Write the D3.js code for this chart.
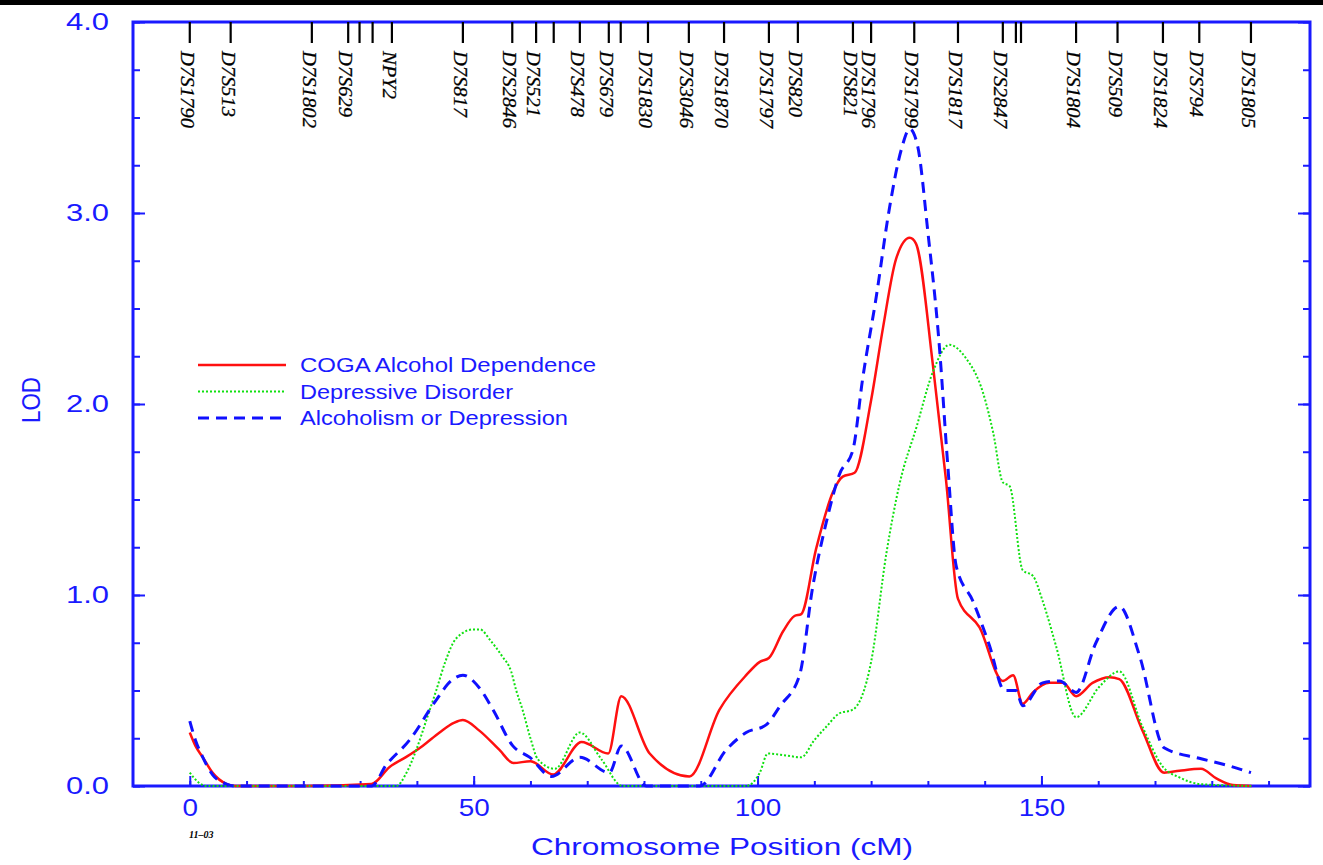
<!DOCTYPE html>
<html>
<head>
<meta charset="utf-8">
<script src="https://cdn.jsdelivr.net/npm/d3@7"></script>
<style>
  body { margin: 0; background: #fff; }
  svg { display: block; }
  .tick-lab { font-family: "Liberation Sans", Arial, sans-serif; fill: #1a1aff; }
  .marker-lab { font-family: "Liberation Serif", "Times New Roman", serif; font-style: italic; fill: #000; stroke: #000; stroke-width: 0.25; }
</style>
</head>
<body>
<div id="chart"></div>
<script>
// markers along the top (cM); empty name = tick without label
const markerNames = ["D7S1790","D7S513","D7S1802","D7S629","","","NPY2","D7S817","D7S2846","D7S521","",
  "D7S478","D7S679","","D7S1830","D7S3046","D7S1870","D7S1797","D7S820","D7S821","D7S1796","D7S1799",
  "D7S1817","D7S2847","","","D7S1804","D7S509","D7S1824","D7S794","D7S1805"];
const markerCM = [0,7.2,21.5,27.9,29.9,32.2,35.6,48.1,56.8,61.0,64.1,
  68.7,73.8,75.9,80.7,87.9,94.1,102.0,107.1,116.8,120.0,127.6,
  135.3,143.2,145.5,146.4,156.1,163.4,171.4,177.8,186.9];

// COGA Alcohol Dependence
const cogaCM  = [0,1,2.3,4,6.5,8,20,32,35.2,38,41,44,46.5,48.1,51,54.5,57,60,64,69,73.7,76,81,88,93.3,98,100.4,102,
  104.5,106.5,107.7,110.3,113.3,115,117.1,120,122.1,124.4,126.8,127.9,130.9,133.2,135.3,139.1,143.2,145,146.7,148.5,
  151.4,153.8,156.1,159,162,163.7,167.8,171.6,174.3,178.1,180.8,183.7,187];
const cogaLOD = [0.28,0.21,0.15,0.07,0.01,0,0,0.01,0.10,0.15,0.21,0.28,0.33,0.345,0.29,0.19,0.12,0.13,0.06,0.23,0.17,0.47,0.17,0.05,0.40,0.58,0.65,0.67,
  0.81,0.89,0.90,1.24,1.54,1.62,1.64,2.02,2.40,2.76,2.87,2.84,2.20,1.60,0.98,0.83,0.55,0.58,0.43,0.49,
  0.54,0.54,0.47,0.54,0.57,0.56,0.29,0.07,0.08,0.09,0.04,0.005,0];

// Depressive Disorder
const depCM  = [0,1.5,3,20,36.4,38,39.9,41.5,43.4,45,46.4,48,49.9,51.1,53,55,56.6,57.5,58.6,60,61.3,64.3,68.7,72.5,76.2,
  98,100.4,101.8,105,107.7,110,112.1,114.4,116.8,120,122.7,125,128,130.9,133.8,136.7,139.7,141.5,143.2,144.4,146.7,148.5,
  150.2,152.6,156.1,160.2,163.7,167.8,171.4,174.3,178,187];
const depLOD = [0.07,0.02,0,0,0,0.06,0.19,0.33,0.50,0.65,0.75,0.80,0.82,0.82,0.76,0.68,0.60,0.50,0.40,0.25,0.14,0.09,0.28,0.14,0,
  0,0.07,0.17,0.16,0.15,0.24,0.31,0.38,0.40,0.65,1.22,1.58,1.88,2.17,2.31,2.24,2.06,1.85,1.59,1.57,1.13,1.10,
  0.97,0.73,0.36,0.52,0.60,0.31,0.10,0.045,0.01,0];

// Alcoholism or Depression
const eitherCM  = [0,1,2.3,4,6.5,8,20,32,34.6,38.7,43.4,46,48.1,51.1,53.4,56.9,59.9,63.7,68.7,73.9,76,80.4,89.8,94.5,98,101.5,
  104,107.4,109.7,112.1,114.4,116.8,118.5,120.9,123.2,125.3,126.8,128.2,130,132,133.5,135,137.9,140.8,143.5,145.5,146.7,
  150.2,153.2,156.1,159.6,163.7,167.3,171.6,177.8,182.5,186.9];
const eitherLOD = [0.34,0.24,0.15,0.06,0.01,0,0,0,0.11,0.24,0.45,0.55,0.58,0.51,0.40,0.21,0.15,0.05,0.15,0.07,0.21,0,0,0.19,0.28,0.32,
  0.42,0.58,1.04,1.38,1.63,1.76,2.13,2.56,3.02,3.33,3.44,3.35,2.90,2.31,1.68,1.15,0.97,0.74,0.50,0.50,0.42,
  0.54,0.55,0.49,0.75,0.94,0.68,0.20,0.145,0.11,0.07];

const yMajor = [0,1,2,3,4];
const xMajor = [0,50,100,150];
const seriesNames = ["COGA Alcohol Dependence","Depressive Disorder","Alcoholism or Depression"];

const W = 1323, H = 865;
const blue = "#1a1aff";

const svg = d3.select("#chart").append("svg").attr("width", W).attr("height", H);
svg.append("rect").attr("width", W).attr("height", H).attr("fill", "#fff");
svg.append("rect").attr("width", W).attr("height", 5).attr("fill", "#000");

const x = d3.scaleLinear().domain([-10, 197.3]).range([133, 1310]);
const y = d3.scaleLinear().domain([0, 4]).range([786, 22]);

// frame
svg.append("rect")
  .attr("x", x.range()[0]).attr("y", y.range()[1])
  .attr("width", x.range()[1] - x.range()[0]).attr("height", y.range()[0] - y.range()[1])
  .attr("fill", "none").attr("stroke", blue).attr("stroke-width", 3);

function styleAxis(g) {
  g.select(".domain").remove();
  g.selectAll(".tick line").attr("stroke", blue).attr("stroke-width", 2);
}

// y axis, left: major with labels, minor every 0.25
svg.append("g").attr("transform", `translate(${x.range()[0]},0)`)
  .call(d3.axisLeft(y).tickValues(d3.range(0, 4.01, 0.25)).tickSize(-7).tickFormat(""))
  .call(styleAxis);
const yl = svg.append("g").attr("transform", `translate(${x.range()[0]},0)`)
  .call(d3.axisLeft(y).tickValues(yMajor).tickSize(-12).tickPadding(24).tickFormat(d3.format(".1f")))
  .call(styleAxis);
yl.selectAll("text").attr("class", "tick-lab").attr("font-size", 23)
  .attr("textLength", 43).attr("lengthAdjust", "spacingAndGlyphs");

// y axis, right
svg.append("g").attr("transform", `translate(${x.range()[1]},0)`)
  .call(d3.axisRight(y).tickValues(d3.range(0, 4.01, 0.25)).tickSize(-7).tickFormat(""))
  .call(styleAxis);
svg.append("g").attr("transform", `translate(${x.range()[1]},0)`)
  .call(d3.axisRight(y).tickValues(yMajor).tickSize(-12).tickFormat(""))
  .call(styleAxis);

// x axis
svg.append("g").attr("transform", `translate(0,${y.range()[0]})`)
  .call(d3.axisBottom(x).tickValues(d3.range(0, 191, 10)).tickSize(-5).tickFormat(""))
  .call(styleAxis);
const xl = svg.append("g").attr("transform", `translate(0,${y.range()[0]})`)
  .call(d3.axisBottom(x).tickValues(xMajor).tickSize(-10).tickPadding(14))
  .call(styleAxis);
xl.selectAll("text").attr("class", "tick-lab").attr("font-size", 23)
  .attr("textLength", d => String(d).length * 15.5).attr("lengthAdjust", "spacingAndGlyphs");

// axis titles
svg.append("text").attr("class", "tick-lab")
  .attr("transform", "translate(40,400) rotate(-90)")
  .attr("text-anchor", "middle").attr("font-size", 25)
  .attr("textLength", 46).attr("lengthAdjust", "spacingAndGlyphs")
  .text("LOD");
svg.append("text").attr("class", "tick-lab")
  .attr("x", 722).attr("y", 855).attr("text-anchor", "middle").attr("font-size", 24)
  .attr("textLength", 382).attr("lengthAdjust", "spacingAndGlyphs")
  .text("Chromosome Position (cM)");
svg.append("text")
  .attr("x", 189).attr("y", 838)
  .attr("font-family", "Liberation Serif, serif").attr("font-style", "italic").attr("font-weight", "bold")
  .attr("font-size", 10).attr("fill", "#000")
  .text("11–03");

// markers
const markers = markerNames.map((n, i) => ({ name: n, cm: markerCM[i] }));
const mg = svg.append("g");
mg.selectAll("line").data(markers).join("line")
  .attr("x1", d => x(d.cm)).attr("x2", d => x(d.cm))
  .attr("y1", y.range()[1]).attr("y2", 43)
  .attr("stroke", "#000").attr("stroke-width", 2.2);
mg.selectAll("text").data(markers.filter(d => d.name)).join("text")
  .attr("class", "marker-lab")
  .attr("transform", d => `translate(${x(d.cm) - 9},51) rotate(90)`)
  .attr("font-size", 18)
  .attr("textLength", d => d.name === "NPY2" ? 48 : d.name.length * 11)
  .attr("lengthAdjust", "spacingAndGlyphs")
  .text(d => d.name);

// curves
const series = [
  { cm: cogaCM, lod: cogaLOD, color: "#ff1010", width: 2.5, dash: null },
  { cm: depCM, lod: depLOD, color: "#10e010", width: 2, dash: "2,2" },
  { cm: eitherCM, lod: eitherLOD, color: "#1010ff", width: 3, dash: "11,7" }
];
const line = d3.line().x(d => x(d[0])).y(d => y(d[1])).curve(d3.curveMonotoneX);
series.forEach(s => {
  svg.append("path")
    .datum(s.cm.map((c, i) => [c, s.lod[i]]))
    .attr("d", line)
    .attr("fill", "none")
    .attr("stroke", s.color)
    .attr("stroke-width", s.width)
    .attr("stroke-dasharray", s.dash)
    .attr("stroke-linejoin", "round");
});

// legend
const legendLen = [296, 213, 268];
const lg = svg.append("g");
series.forEach((s, i) => {
  const yy = 365 + i * 26.5;
  lg.append("line").attr("x1", 198).attr("x2", 286).attr("y1", yy).attr("y2", yy)
    .attr("stroke", s.color).attr("stroke-width", s.width).attr("stroke-dasharray", s.dash);
  lg.append("text").attr("class", "tick-lab")
    .attr("x", 300).attr("y", yy + 7).attr("font-size", 20)
    .attr("textLength", legendLen[i]).attr("lengthAdjust", "spacingAndGlyphs")
    .text(seriesNames[i]);
});
</script>
</body>
</html>
